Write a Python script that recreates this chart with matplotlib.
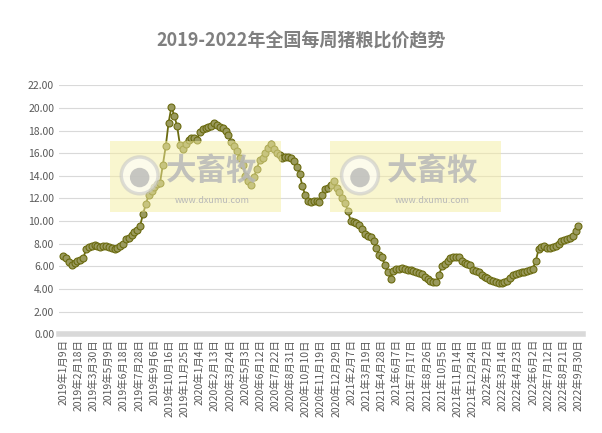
import matplotlib
matplotlib.use("Agg")
import matplotlib.pyplot as plt
from matplotlib.patches import Rectangle, Ellipse
import numpy as np

plt.rcParams['font.family'] = ['Noto Sans CJK SC', 'DejaVu Sans']

# weekly pig-grain price ratio
ratio = [
    6.9, 6.7, 6.4, 6.1, 6.3, 6.5, 6.6, 6.7, 7.5, 7.7, 7.8, 7.9, 7.8, 7.7, 7.8, 7.8,
    7.7, 7.6, 7.5, 7.6, 7.8, 8.0, 8.4, 8.5, 8.8, 9.0, 9.2, 9.6, 10.6, 11.5, 12.3, 12.7,
    13.0, 13.3, 13.4, 15.0, 16.6, 18.7, 20.1, 19.3, 18.4, 16.7, 16.4, 16.8, 17.2, 17.3,
    17.3, 17.2, 17.9, 18.1, 18.2, 18.3, 18.4, 18.7, 18.5, 18.3, 18.2, 18.0, 17.6, 17.0,
    16.6, 16.2, 15.6, 15.0, 14.0, 13.5, 13.2, 13.9, 14.6, 15.4, 15.6, 16.0, 16.5, 16.8,
    16.4, 16.0, 15.8, 15.6, 15.7, 15.7, 15.6, 15.3, 14.8, 14.2, 13.1, 12.3, 11.8, 11.7,
    11.8, 11.8, 11.7, 12.3, 12.8, 12.9, 13.2, 13.5, 12.9, 12.6, 12.0, 11.6, 10.9, 10.0,
    9.9, 9.8, 9.7, 9.3, 8.9, 8.7, 8.6, 8.2, 7.6, 7.0, 6.8, 6.1, 5.5, 4.9, 5.6, 5.8,
    5.8, 5.9, 5.8, 5.7, 5.7, 5.6, 5.5, 5.4, 5.3, 5.1, 4.9, 4.7, 4.6, 4.6, 5.2, 6.0,
    6.2, 6.5, 6.7, 6.8, 6.8, 6.8, 6.5, 6.3, 6.2, 6.1, 5.7, 5.6, 5.5, 5.2, 5.1, 5.0,
    4.8, 4.7, 4.6, 4.5, 4.5, 4.6, 4.7, 5.0, 5.2, 5.3, 5.4, 5.5, 5.5, 5.6, 5.7, 5.8,
    6.5, 7.5, 7.7, 7.8, 7.6, 7.6, 7.7, 7.8, 8.0, 8.2, 8.3, 8.4, 8.5, 8.7, 9.1, 9.6,
]

tick_labels = [
    "2019年1月9日", "2019年2月18日", "2019年3月30日", "2019年5月9日", "2019年6月18日",
    "2019年7月28日", "2019年9月6日", "2019年10月16日", "2019年11月25日", "2020年1月4日",
    "2020年2月13日", "2020年3月24日", "2020年5月3日", "2020年6月12日", "2020年7月22日",
    "2020年8月31日", "2020年10月10日", "2020年11月19日", "2020年12月29日", "2021年2月7日",
    "2021年3月19日", "2021年4月28日", "2021年6月7日", "2021年7月17日", "2021年8月26日",
    "2021年10月5日", "2021年11月14日", "2021年12月24日", "2022年2月2日", "2022年3月14日",
    "2022年4月23日", "2022年6月2日", "2022年7月12日", "2022年8月21日", "2022年9月30日",
]

n = len(ratio)
x = np.arange(n)

fig = plt.figure(figsize=(6.02, 4.33), dpi=100)
ax = fig.add_axes([0.098, 0.228, 0.87, 0.575])
ax.patch.set_alpha(0)

ax.plot(x, ratio, color="#6b6b10", lw=1.3, marker="o", ms=5,
        markerfacecolor="#9a9a5e", markeredgecolor="#6b6b10", markeredgewidth=0.8, zorder=3)

# watermarks (drawn over the data, semi-transparent)
asp = 433 / 602
for xc in (0.182, 0.548):
    fig.patches.append(Rectangle((xc, 0.51), 0.285, 0.165, transform=fig.transFigure,
                                 facecolor="#f5eea0", alpha=0.5, edgecolor="none", zorder=5))
    fig.patches.append(Ellipse((xc + 0.05, 0.595), 0.085 * asp, 0.085, transform=fig.transFigure,
                               facecolor="white", edgecolor="#c8c8c8", lw=2.5, alpha=0.6, zorder=6))
    fig.patches.append(Ellipse((xc + 0.05, 0.59), 0.045 * asp, 0.045, transform=fig.transFigure,
                               facecolor="#b0b0b0", edgecolor="none", alpha=0.7, zorder=7))
    fig.text(xc + 0.17, 0.605, "大畜牧", fontsize=22, fontweight="bold", color="#b8b8b8",
             ha="center", va="center", alpha=0.85, zorder=8)
    fig.text(xc + 0.17, 0.537, "www.dxumu.com", fontsize=6.5, color="#b8b8b8",
             ha="center", va="center", zorder=8)

ax.set_ylim(0, 22)
ax.set_yticks(np.arange(0, 22.01, 2))
ax.set_yticklabels([f"{v:.2f}" for v in np.arange(0, 22.01, 2)], fontsize=7.5, color="#595959")
ax.set_xlim(-1.5, n + 0.5)
pos = np.linspace(0, n - 1, len(tick_labels))
ax.set_xticks(pos)
ax.set_xticklabels(tick_labels, rotation=90, fontsize=7.5, color="#595959")
ax.tick_params(length=0)
ax.grid(axis="y", color="#d9d9d9", lw=0.8)
for s in ("top", "right", "left"):
    ax.spines[s].set_visible(False)
ax.spines["bottom"].set_color("#d9d9d9")
ax.spines["bottom"].set_linewidth(4)

fig.text(0.5, 0.905, "2019-2022年全国每周猪粮比价趋势", ha="center", va="center",
         fontsize=13, fontweight="bold", color="#7f7f7f")

fig.savefig("out.png", dpi=100)
